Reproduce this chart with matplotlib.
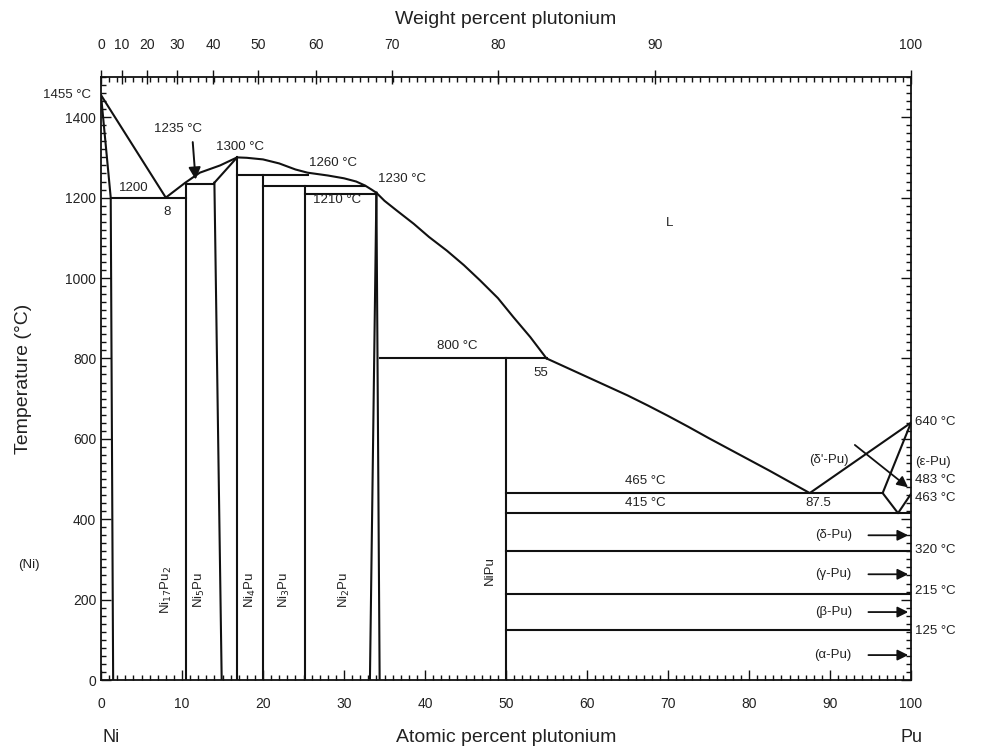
import numpy as np
import matplotlib.pyplot as plt
from matplotlib.ticker import MultipleLocator

plt.rcParams['font.family'] = ['Liberation Sans', 'DejaVu Sans']

# atomic masses for the weight-percent scale
M_NI, M_PU = 58.69, 244.0

# Ni-rich liquidus and solidus
liq_ni_x = [0, 8]
liq_ni_t = [1455, 1200]
sol_ni_x = [0, 1.2, 1.5]
sol_ni_t = [1455, 1200, 0]

# liquidus from the Ni eutectic over the compound maxima down to 55 at.%
liq_mid_x = [8, 10.4, 12.2, 14.7, 16.8, 18, 20, 22, 24, 25.5, 28, 30, 31.5, 32.6, 33.4, 34.0,
             35, 36.5, 38.6, 40.5, 42.7, 44.8, 46.8, 49, 50.9, 53, 55]
liq_mid_t = [1200, 1237, 1262, 1280, 1300, 1299, 1295, 1285, 1270, 1262, 1255, 1248, 1240, 1230, 1220, 1212,
             1192, 1168, 1135, 1102, 1068, 1032, 994, 950, 903, 853, 800]

# liquidus on the Pu side
liq_pu_x = [55, 57.5, 60, 62.5, 65, 67.5, 70, 72.5, 75, 77.5, 80, 82.5, 85, 87.5, 100]
liq_pu_t = [800, 777, 754, 731, 708, 683, 657, 630, 602, 575, 548, 521, 493, 465, 640]

# (eps-Pu) boundaries
eps_x = [100, 96.5, 98.4, 100]
eps_t = [640, 465, 415, 463]

# compound phase boundaries: (x_top, t_top, x_bottom)
compounds = [
    (10.5, 1235, 10.5),   # Ni17Pu2
    (14.0, 1237, 14.9),   # Ni5Pu, Ni side
    (16.8, 1300, 16.8),   # Ni5Pu, Pu side
    (20.0, 1257, 20.0),   # Ni4Pu
    (25.2, 1230, 25.2),   # Ni3Pu
    (34.0, 1212, 33.2),   # Ni2Pu, Ni side
    (34.0, 1212, 34.4),   # Ni2Pu, Pu side
    (50.0, 800, 50.0),    # NiPu
]
ni5pu_solidus_x = [14.0, 16.8]
ni5pu_solidus_t = [1237, 1300]

# invariant horizontals: (temperature, x_start, x_end)
isotherms = [
    (1200, 1.2, 10.5),
    (1235, 10.5, 14.0),
    (1257, 16.8, 25.5),
    (1230, 20.0, 32.6),
    (1210, 25.2, 34.0),
    (800, 34.4, 55.0),
    (465, 50.0, 96.5),
    (415, 50.0, 100.0),
    (320, 50.0, 100.0),
    (215, 50.0, 100.0),
    (125, 50.0, 100.0),
]

compound_names = ['Ni$_{17}$Pu$_2$', 'Ni$_5$Pu', 'Ni$_4$Pu', 'Ni$_3$Pu', 'Ni$_2$Pu', 'NiPu']
compound_label_x = [8.1, 12.2, 18.4, 22.6, 30.1, 48.0]
compound_label_t = [224, 224, 224, 224, 224, 273]

pu_phases = ['(δ-Pu)', '(γ-Pu)', '(β-Pu)', '(α-Pu)']
pu_phase_t = [360, 263, 169, 62]

right_labels = ['640 °C', '(ε-Pu)', '483 °C', '463 °C', '320 °C', '215 °C', '125 °C']
right_label_t = [641, 542, 497, 452, 323, 221, 122]

wt_ticks = [0, 10, 20, 30, 40, 50, 60, 70, 80, 90, 100]


def wt_to_at(w):
    w = np.asarray(w, dtype=float)
    pu = w / M_PU
    ni = (100 - w) / M_NI
    return 100 * pu / (pu + ni)


fig = plt.figure(figsize=(9.92, 7.51), dpi=100)
ax = fig.add_axes([101 / 992, 71 / 751, 810 / 992, 603 / 751])
ax.set_xlim(0, 100)
ax.set_ylim(0, 1500)

lc = '#111111'
lw = 1.5
tc = '#222222'

ax.plot(liq_ni_x, liq_ni_t, color=lc, lw=lw)
ax.plot(sol_ni_x, sol_ni_t, color=lc, lw=lw)
ax.plot(liq_mid_x, liq_mid_t, color=lc, lw=lw)
ax.plot(liq_pu_x, liq_pu_t, color=lc, lw=lw)
ax.plot(eps_x, eps_t, color=lc, lw=lw)
ax.plot(ni5pu_solidus_x, ni5pu_solidus_t, color=lc, lw=lw)
for xt, tt, xb in compounds:
    ax.plot([xt, xb], [tt, 0], color=lc, lw=lw)
for t, x0, x1 in isotherms:
    ax.plot([x0, x1], [t, t], color=lc, lw=lw)

# point labels inside the field
fs = 9.5
ax.text(9.5, 1371, '1235 °C', fontsize=fs, color=tc, ha='center', va='center')
ax.annotate('', xy=(11.7, 1238), xytext=(11.3, 1345),
            arrowprops=dict(arrowstyle='-|>', color=lc, lw=1.4, mutation_scale=18))
ax.text(17.2, 1327, '1300 °C', fontsize=fs, color=tc, ha='center', va='center')
ax.text(4.1, 1225, '1200', fontsize=fs, color=tc, ha='center', va='center')
ax.text(8.1, 1165, '8', fontsize=fs, color=tc, ha='center', va='center')
ax.text(28.6, 1287, '1260 °C', fontsize=fs, color=tc, ha='center', va='center')
ax.text(37.2, 1247, '1230 °C', fontsize=fs, color=tc, ha='center', va='center')
ax.text(29.1, 1193, '1210 °C', fontsize=fs, color=tc, ha='center', va='center')
ax.text(70.2, 1138, 'L', fontsize=fs, color=tc, ha='center', va='center')
ax.text(44.0, 830, '800 °C', fontsize=fs, color=tc, ha='center', va='center')
ax.text(54.3, 763, '55', fontsize=fs, color=tc, ha='center', va='center')
ax.text(67.2, 494, '465 °C', fontsize=fs, color=tc, ha='center', va='center')
ax.text(67.2, 440, '415 °C', fontsize=fs, color=tc, ha='center', va='center')
ax.text(88.6, 440, '87.5', fontsize=fs, color=tc, ha='center', va='center')
ax.text(89.9, 547, "(δ'-Pu)", fontsize=fs, color=tc, ha='center', va='center')
ax.annotate('', xy=(99.9, 475), xytext=(92.8, 589),
            arrowprops=dict(arrowstyle='-|>', color=lc, lw=1.3, mutation_scale=16))

for name, x, t in zip(compound_names, compound_label_x, compound_label_t):
    ax.text(x, t, name, fontsize=fs, color=tc, rotation=90, ha='center', va='center')

for name, t in zip(pu_phases, pu_phase_t):
    ax.text(90.4, t, name, fontsize=fs, color=tc, ha='center', va='center')
    ax.annotate('', xy=(100, t), xytext=(94.4, t),
                arrowprops=dict(arrowstyle='-|>', color=lc, lw=1.3, mutation_scale=16))

for name, t in zip(right_labels, right_label_t):
    ax.text(100.5, t, name, fontsize=fs, color=tc, ha='left', va='center', clip_on=False)

ax.text(-1.2, 1455, '1455 °C', fontsize=fs, color=tc, ha='right', va='center')
ax.text(-0.089, 286, '(Ni)', fontsize=fs, color=tc, ha='center', va='center',
        transform=ax.get_yaxis_transform())

# axis ticks
ax.xaxis.set_major_locator(MultipleLocator(10))
ax.xaxis.set_minor_locator(MultipleLocator(1))
ax.yaxis.set_major_locator(MultipleLocator(200))
ax.yaxis.set_minor_locator(MultipleLocator(20))
ax.set_yticks(np.arange(0, 1401, 200))
ax.tick_params(which='both', direction='in', top=False, right=True, colors=lc,
               labelcolor=tc, labelsize=10, width=1.0)
ax.tick_params(which='major', length=7)
ax.tick_params(which='minor', length=3.5)
ax.tick_params(axis='x', which='major', pad=12)
for s in ax.spines.values():
    s.set_linewidth(1.3)
    s.set_color(lc)

ax.set_xlabel('Atomic percent plutonium', fontsize=14, color=tc, labelpad=13)
ax.set_ylabel('Temperature (°C)', fontsize=14, color=tc, labelpad=24)
ax.text(1.2, -0.095, 'Ni', fontsize=13, color=tc, ha='center', va='center',
        transform=ax.get_xaxis_transform())
ax.text(100, -0.095, 'Pu', fontsize=13, color=tc, ha='center', va='center',
        transform=ax.get_xaxis_transform())

# weight-percent scale along the top, atomic-percent ticks mirrored under it
top = ax.twiny()
top.set_xlim(ax.get_xlim())
top.set_xticks(wt_to_at(wt_ticks))
top.set_xticklabels([str(w) for w in wt_ticks])
top.set_xticks(np.arange(0, 101, 1), minor=True)
top.tick_params(axis='x', which='major', direction='inout', length=10, width=1.0,
                colors=lc, labelcolor=tc, labelsize=10, pad=13)
top.tick_params(axis='x', which='minor', direction='in', length=3.5, width=1.0, colors=lc)
top.set_xlabel('Weight percent plutonium', fontsize=14, color=tc, labelpad=10)
for s in top.spines.values():
    s.set_visible(False)

fig.savefig('out.png', dpi=100)
